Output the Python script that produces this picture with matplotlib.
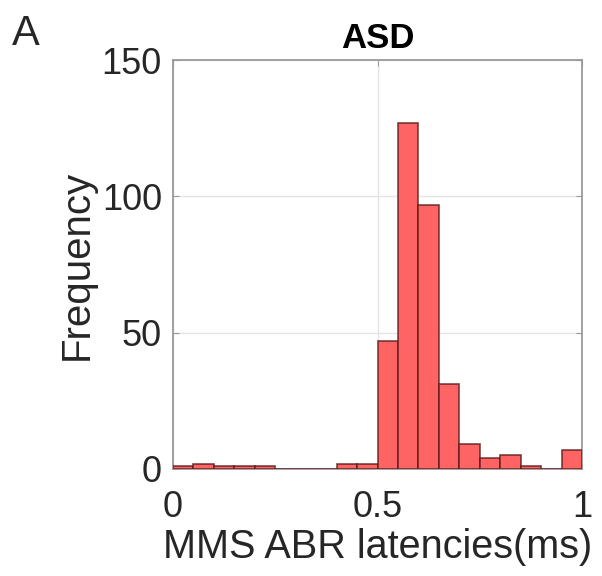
import numpy as np
import matplotlib
matplotlib.use("Agg")
import matplotlib.pyplot as plt

plt.rcParams['font.family'] = ['Liberation Sans', 'DejaVu Sans']

# histogram of latencies, bins of 0.05 ms from 0 to 1
bin_edges = np.round(np.arange(0, 1.0001, 0.05), 2)
counts = [1, 2, 1, 1, 1, 0, 0, 0, 2, 2, 47, 127, 97, 31, 9, 4, 5, 1, 0, 7]
centers = (bin_edges[:-1] + bin_edges[1:]) / 2

fig = plt.figure(figsize=(6.02, 5.76), dpi=100)
ax = fig.add_axes([173 / 602, 1 - 469 / 576, 409 / 602, 409 / 576])

ax.hist(centers, bins=bin_edges, weights=counts,
        facecolor='#ff6464', edgecolor=(0.35, 0.1, 0.1, 0.8), linewidth=1.2, zorder=3)

ax.set_xlim(0, 1)
ax.set_ylim(0, 150)
ax.set_xticks([0, 0.5, 1])
ax.set_xticklabels(['0', '0.5', '1'])
ax.set_yticks([0, 50, 100, 150])
ax.grid(True, color='#e4e4e4', linewidth=1, zorder=0)
ax.set_axisbelow(True)
for s in ax.spines.values():
    s.set_color('#9a9a9a')
    s.set_linewidth(1.3)
ax.tick_params(direction='in', top=True, right=True, length=4, color='#9a9a9a',
               labelsize=26, labelcolor='#262626')
ax.tick_params(axis='x', pad=15)
ax.tick_params(axis='y', pad=8)

ax.set_xlabel('MMS ABR latencies(ms)', fontsize=28.5, color='#262626', labelpad=2)
ax.set_ylabel('Frequency', fontsize=29, color='#262626', labelpad=4)
ax.set_title('ASD', fontsize=25, fontweight='bold', color='black', pad=9)
fig.text(12 / 602, 1 - 45 / 576, 'A', fontsize=30, color='#262626')

fig.savefig('out.png', dpi=100)
